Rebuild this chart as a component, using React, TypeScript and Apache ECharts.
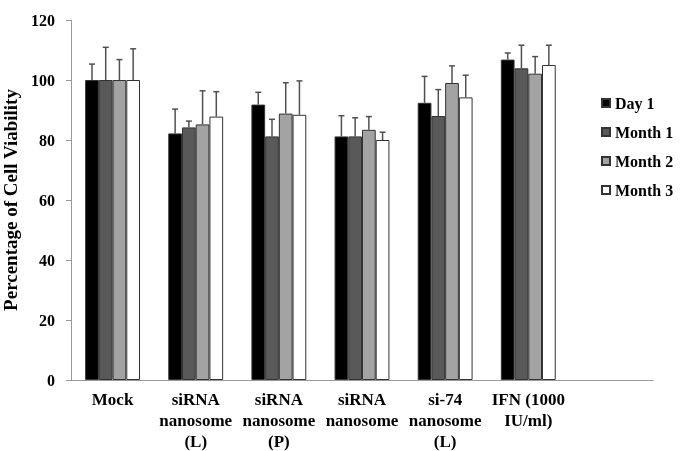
import React, { useEffect, useRef } from "react";
import * as echarts from "echarts";

const categories = [
  "Mock",
  "siRNA\nnanosome\n(L)",
  "siRNA\nnanosome\n(P)",
  "siRNA\nnanosome",
  "si-74\nnanosome\n(L)",
  "IFN (1000\nIU/ml)",
  "",
];
const seriesNames = ["Day 1", "Month 1", "Month 2", "Month 3"];
const day1 = [100, 82.2, 91.8, 81.2, 92.4, 106.8];
const month1 = [100, 84.2, 81.2, 81.2, 88.0, 103.9];
const month2 = [100, 85.2, 88.8, 83.4, 99.0, 102.1];
const month3 = [100, 87.8, 88.4, 80.0, 94.2, 105.0];
const day1Err = [5.3, 8.1, 4.1, 6.9, 8.8, 2.2];
const month1Err = [10.9, 2.1, 5.7, 6.2, 8.8, 7.7];
const month2Err = [6.8, 11.2, 10.3, 4.4, 5.7, 5.7];
const month3Err = [10.4, 8.3, 11.3, 2.6, 7.4, 6.6];
const yTicks = { min: 0, max: 120, interval: 20 };

const values = [day1, month1, month2, month3];
const errors = [day1Err, month1Err, month2Err, month3Err];
const colors = ["#000000", "#595959", "#a3a3a3", "#ffffff"];
const font = "'Liberation Serif', 'Times New Roman', serif";
const catGap = 0.34;

export default function App() {
  const ref = useRef<HTMLDivElement>(null);
  useEffect(() => {
    if (!ref.current) return;
    const chart = echarts.init(ref.current, undefined, { renderer: "svg" });
    const barSeries = seriesNames.map((name, i) => ({
      name,
      type: "bar",
      data: values[i],
      barGap: "0%",
      barCategoryGap: catGap * 100 + "%",
      itemStyle: { color: colors[i], borderColor: "#333", borderWidth: 1 },
      z: 2,
    }));
    const errSeries = seriesNames.map((name, i) => ({
      type: "custom",
      name: name + " err",
      z: 3,
      data: values[i].map((v, j) => [j, v, v + errors[i][j]]),
      renderItem: (params: any, api: any) => {
        const x = api.value(0);
        const base = api.coord([x, api.value(1)]);
        const top = api.coord([x, api.value(2)]);
        const cw = api.size([1, 0])[0];
        const bw = (cw * (1 - catGap)) / 4;
        const cx = base[0] + (i - 1.5) * bw;
        const cap = 3;
        const style = { stroke: "#505050", lineWidth: 1.5 };
        return {
          type: "group",
          children: [
            { type: "line", shape: { x1: cx, y1: base[1], x2: cx, y2: top[1] }, style },
            { type: "line", shape: { x1: cx - cap, y1: top[1], x2: cx + cap, y2: top[1] }, style },
          ],
        };
      },
    }));
    chart.setOption({
      animation: false,
      grid: { left: 71, right: 28, top: 20, bottom: 71, outerBoundsMode: "none", containLabel: false },
      legend: {
        data: seriesNames,
        orient: "vertical",
        left: 596,
        top: 90,
        icon: "rect",
        itemWidth: 8,
        itemHeight: 8,
        itemGap: 13,
        textStyle: { fontFamily: font, fontWeight: "bold", fontSize: 16, color: "#000" },
      },
      xAxis: {
        type: "category",
        data: categories,
        axisLine: { lineStyle: { color: "#999" } },
        axisTick: { show: false },
        axisLabel: {
          interval: 0,
          fontFamily: font,
          fontWeight: "bold",
          fontSize: 17,
          color: "#000",
          lineHeight: 21,
          margin: 9,
        },
      },
      yAxis: {
        type: "value",
        min: yTicks.min,
        max: yTicks.max,
        interval: yTicks.interval,
        name: "Percentage of Cell Viability",
        nameLocation: "middle",
        nameGap: 45,
        nameTextStyle: { fontFamily: font, fontWeight: "bold", fontSize: 19, color: "#000" },
        splitLine: { show: false },
        axisLine: { show: true, lineStyle: { color: "#999" } },
        axisTick: { show: true, length: 5, lineStyle: { color: "#999" } },
        axisLabel: { fontFamily: font, fontWeight: "bold", fontSize: 16, color: "#000", margin: 16 },
      },
      series: [...barSeries, ...errSeries],
    });
    return () => chart.dispose();
  }, []);
  return (
    <div
      ref={ref}
      style={{ position: "fixed", left: 0, top: 0, width: 681, height: 451 }}
    />
  );
}
